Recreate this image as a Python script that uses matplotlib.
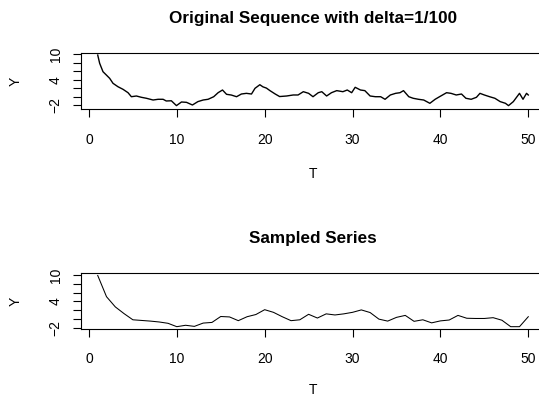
import matplotlib
matplotlib.use("Agg")
import matplotlib.pyplot as plt
from matplotlib.ticker import FixedLocator, FuncFormatter

plt.rcParams['font.family'] = ['Liberation Sans', 'DejaVu Sans']

# Original sequence (delta = 1/100)
orig_t = [1.0, 1.22, 1.6, 1.98, 2.36, 2.74, 3.3, 3.88, 4.45, 4.83, 5.4, 5.97, 6.54,
          7.3, 7.87, 8.44, 8.8, 9.38, 9.96, 10.53, 11.1, 11.78, 12.4, 13.0, 13.56,
          14.2, 14.7, 15.2, 15.66, 16.2, 16.8, 17.35, 17.92, 18.5, 18.9, 19.45, 19.8,
          20.2, 20.6, 21.2, 21.7, 22.5, 23.25, 23.8, 24.4, 25.0, 25.5, 26.1, 26.5,
          27.05, 27.6, 28.2, 28.9, 29.4, 29.9, 30.3, 30.9, 31.4, 32.0, 32.6, 33.2,
          33.7, 34.3, 34.9, 35.4, 35.8, 36.4, 36.9, 37.5, 38.1, 38.8, 39.4, 39.9,
          40.7, 41.2, 41.8, 42.4, 42.9, 43.5, 44.1, 44.5, 45.0, 45.6, 46.2, 46.8,
          47.4, 47.75, 48.3, 49.0, 49.4, 49.8, 50.0]
orig_y = [9.83, 7.87, 5.88, 5.1, 4.31, 3.13, 2.33, 1.71, 0.91, -0.04, 0.13, -0.18, -0.41,
          -0.82, -0.65, -0.65, -1.05, -1.0, -2.15, -1.29, -1.37, -2.0, -1.2, -0.82, -0.65,
          -0.04, 0.91, 1.55, 0.53, 0.36, -0.04, 0.6, 0.76, 0.6, 1.95, 2.8, 2.3,
          2.0, 1.4, 0.6, 0.0, 0.13, 0.37, 0.37, 1.15, 0.76, -0.04, 0.91, 1.15,
          0.13, 0.91, 1.4, 1.15, 1.55, 0.91, 2.19, 1.55, 1.4, 0.13, -0.04, -0.04,
          -0.65, 0.37, 0.76, 0.91, 1.4, -0.04, -0.41, -0.65, -0.82, -1.6, -0.65, -0.04,
          0.91, 0.76, 0.37, 0.6, -0.41, -0.65, -0.18, 0.76, 0.37, -0.04, -0.41, -1.2,
          -1.6, -2.15, -1.2, 0.76, -0.65, 0.76, 0.37]

# Sampled series at integer T
samp_t = list(range(1, 51))
samp_y = [9.9, 5.06, 2.74, 1.2, -0.2, -0.35, -0.5, -0.7, -1.0, -1.77,
          -1.45, -1.7, -0.95, -0.8, 0.55, 0.45, -0.4, 0.5, 1.0, 2.1,
          1.5, 0.5, -0.4, -0.2, 1.05, 0.2, 1.15, 0.9, 1.15, 1.5,
          2.05, 1.45, -0.05, -0.5, 0.35, 0.8, -0.55, -0.2, -0.9, -0.45,
          -0.25, 0.8, 0.15, 0.1, 0.1, 0.28, -0.3, -1.77, -1.77, 0.5]

x_ticks = [0, 10, 20, 30, 40, 50]
y_ticks = [-2, 0, 2, 4, 6, 8, 10]
y_labeled = [-2, 4, 10]

W, H = 539, 396
fig = plt.figure(figsize=(W / 100, H / 100), dpi=100)

def make_axes(top_px, bot_px):
    left = 80.5 / W
    width = (545.5 - 80.5) / W
    bottom = 1 - bot_px / H
    height = (bot_px - top_px) / H
    return fig.add_axes([left, bottom, width, height])

ax1 = make_axes(53.3, 109.3)
ax2 = make_axes(273.3, 328.7)

panels = [
    (ax1, orig_t, orig_y, "Original Sequence with delta=1/100", (-3.02, 10.24), 1.0, 15),
    (ax2, samp_t, samp_y, "Sampled Series", (-2.23, 10.39), 0.75, 12),
]

for ax, xs, ys, title, ylim, lw, xlpad in panels:
    ax.plot(xs, ys, color='black', lw=lw)
    ax.set_xlim(-0.96, 51.96)
    ax.set_ylim(*ylim)
    for s in ax.spines.values():
        s.set_linewidth(0.8)
        s.set_color('black')
    ax.xaxis.set_major_locator(FixedLocator(x_ticks))
    ax.yaxis.set_major_locator(FixedLocator(y_ticks))
    ax.yaxis.set_major_formatter(FuncFormatter(
        lambda v, p: (("\u2212" if v < 0 else "") + str(abs(int(v)))) if int(v) in y_labeled else ""))
    ax.tick_params(axis='both', direction='out', length=5.8, width=0.8,
                   labelsize=10, color='black')
    ax.tick_params(axis='x', pad=11)
    ax.tick_params(axis='y', pad=7)
    for lab in ax.get_yticklabels():
        lab.set_rotation(90)
        lab.set_va('center')
    ax.set_xlabel("T", fontsize=10, labelpad=xlpad)
    ax.set_ylabel("Y", fontsize=10, labelpad=19)
    ax.set_title(title, fontsize=12.3, fontweight='bold', pad=22)

fig.savefig("out.png", dpi=100)
